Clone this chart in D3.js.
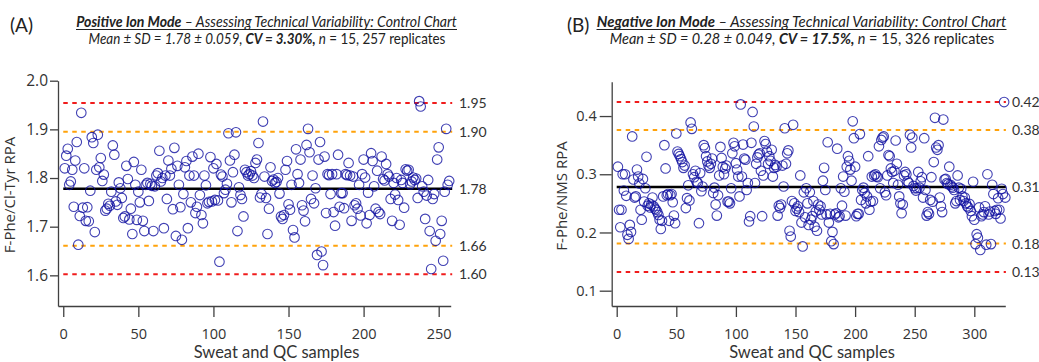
<!DOCTYPE html>
<html>
<head>
<meta charset="utf-8">
<script src="https://cdn.jsdelivr.net/npm/d3@7"></script>
<style>
  body{margin:0;background:#fff}
  svg{display:block}
</style>
</head>
<body>
<svg id="chart" width="1039" height="362"></svg>
<script>
// F-Phe/Cl-Tyr RPA, positive ion mode (257 replicates, in run order)
const posValues = [
  1.820,1.846,1.860,1.786,1.793,1.817,1.741,1.836,1.874,1.663,
  1.722,1.934,1.739,1.820,1.712,1.740,1.711,1.774,1.884,1.872,
  1.689,1.817,1.889,1.822,1.841,1.794,1.807,1.733,1.737,1.747,
  1.743,1.772,1.867,1.848,1.752,1.745,1.791,1.779,1.759,1.718,
  1.721,1.825,1.798,1.715,1.737,1.685,1.833,1.786,1.714,1.772,
  1.750,1.817,1.712,1.691,1.786,1.790,1.753,1.788,1.784,1.691,
  1.783,1.805,1.810,1.856,1.793,1.800,1.697,1.805,1.757,1.836,
  1.805,1.819,1.736,1.862,1.681,1.825,1.786,1.740,1.673,1.767,
  1.822,1.835,1.697,1.805,
  1.750,1.844,1.805,1.728,1.741,1.850,1.765,1.724,1.707,1.805,
  1.785,1.748,1.751,1.843,1.752,1.820,1.755,1.829,1.754,1.628,
  1.807,1.803,1.769,1.776,1.788,1.892,1.836,1.750,1.812,1.848,
  1.894,1.691,1.781,1.765,1.757,1.721,1.817,1.812,1.805,1.808,
  1.814,1.805,1.800,1.831,1.838,1.872,1.760,1.767,1.916,1.803,
  1.759,1.685,1.737,1.822,1.794,1.797,1.790,1.792,1.800,1.768,
  1.721,1.716,1.724,1.817,1.835,1.746,1.735,1.786,1.693,1.678,
  1.859,1.808,1.790,1.838,1.744,1.733,1.711,1.868,1.901,1.853,
  1.757,1.805,1.748,1.779,1.642,1.838,1.874,1.649,
  1.621,1.844,1.728,1.808,1.806,1.767,1.808,1.730,1.702,1.808,
  1.848,1.741,1.769,1.769,1.738,1.808,1.806,1.831,1.805,1.712,
  1.803,1.744,1.748,1.737,1.786,1.723,1.808,1.838,1.801,1.707,
  1.770,1.724,1.851,1.835,1.783,1.737,1.815,1.730,1.726,1.844,
  1.798,1.795,1.829,1.808,1.803,1.757,1.712,1.790,1.766,1.800,
  1.755,1.704,1.796,1.790,1.739,1.818,1.815,1.817,1.787,1.793,
  1.801,1.796,1.799,1.759,1.958,1.947,1.783,1.772,1.716,1.764,
  1.796,1.691,1.613,1.757,1.767,1.671,1.838,1.863,1.685,1.712,
  1.630,1.772,1.901,1.786,1.794
];

// F-Phe/NMS RPA, negative ion mode (326 replicates, in run order)
const negValues = [
  0.313,0.239,0.209,0.239,0.300,0.272,0.300,0.263,0.196,0.189,
  0.213,0.201,0.365,0.291,0.260,0.262,0.308,0.296,0.284,0.239,
  0.222,0.292,0.253,0.276,0.330,0.246,0.250,0.243,0.248,0.260,
  0.245,0.241,0.239,0.235,0.230,0.222,0.206,0.220,0.262,0.350,
  0.310,0.264,0.266,0.220,0.264,0.266,0.252,0.229,0.216,0.370,
  0.339,0.335,0.331,0.326,0.321,0.311,0.315,0.242,0.259,0.281,
  0.255,0.389,0.378,0.300,0.295,0.306,0.287,0.285,0.216,0.302,
  0.271,0.279,0.350,0.345,0.331,0.322,0.315,0.311,0.318,0.327,
  0.268,0.277,0.248,0.229,0.264,0.298,0.347,0.328,0.313,0.300,
  0.310,0.315,0.253,0.253,0.250,0.276,0.336,0.354,0.348,0.319,
  0.308,0.296,0.262,0.420,0.296,0.351,0.327,
  0.325,0.273,0.285,0.219,0.228,0.354,0.407,0.382,0.285,0.318,
  0.329,0.334,0.336,0.306,0.228,0.298,0.357,0.352,0.339,0.318,
  0.331,0.323,0.342,0.296,0.311,0.316,0.313,0.229,0.246,0.242,
  0.248,0.315,0.279,0.379,0.318,0.336,0.341,0.203,0.193,0.254,
  0.385,0.250,0.237,0.241,0.245,0.235,0.298,0.217,0.176,0.269,
  0.226,0.276,0.250,0.213,0.269,0.222,0.228,0.254,0.210,0.236,
  0.203,0.248,0.239,0.245,0.231,0.289,0.311,0.273,0.231,0.355,
  0.217,0.232,0.185,0.201,0.180,0.231,0.233,0.344,0.226,0.228,
  0.276,0.246,0.296,0.270,0.229,0.313,0.331,0.323,0.308,0.289,
  0.391,0.362,0.313,0.228,0.232,0.232,0.369,0.256,0.273,0.277,
  0.268,0.250,0.262,0.331,0.239,0.253,0.296,0.254,
  0.298,0.300,0.296,0.295,0.348,0.276,0.359,0.363,0.365,0.269,
  0.264,0.298,0.333,0.331,0.310,0.304,0.285,0.306,0.358,0.318,
  0.282,0.262,0.250,0.233,0.248,0.298,0.304,0.300,0.288,0.285,
  0.368,0.346,0.363,0.280,0.276,0.272,0.276,0.304,0.277,0.288,
  0.295,0.260,0.362,0.273,0.229,0.235,0.232,0.256,0.295,0.253,
  0.321,0.397,0.346,0.342,0.350,0.260,0.245,0.235,0.394,0.291,
  0.292,0.285,0.283,0.313,0.282,0.279,0.277,0.273,0.250,0.254,
  0.298,0.277,0.256,0.275,0.262,0.254,0.260,0.250,0.245,0.243,
  0.249,0.237,0.228,0.287,0.222,0.180,0.197,0.191,0.243,0.170,
  0.228,0.231,0.235,0.245,0.179,0.300,0.231,0.236,0.180,0.282,
  0.266,0.237,0.232,0.239,0.259,0.239,0.224,0.275,0.266,0.424,
  0.260
];

// control limits: +3SD, +2SD, mean, -2SD, -3SD
const posLimits = [1.954, 1.895, 1.778, 1.661, 1.602];
const posLimitLabels = ['1.95', '1.90', '1.78', '1.66', '1.60'];
const negLimits = [0.424, 0.376, 0.278, 0.181, 0.132];
const negLimitLabels = ['0.42', '0.38', '0.31', '0.18', '0.13'];

const posYTicks = [1.6, 1.7, 1.8, 1.9, 2.0];
const negYTicks = [0.1, 0.2, 0.3, 0.4];
const posXTicks = [0, 50, 100, 150, 200, 250];
const negXTicks = [0, 50, 100, 150, 200, 250, 300];

const limitColors = ['#f01c1c', '#ffa20a', '#000', '#ffa20a', '#f01c1c'];

const panels = [
  {
    tag: '(A)', tagX: 10,
    title: ['Positive Ion Mode', ' – Assessing Technical Variability: Control Chart'],
    stats: ['Mean ± SD = 1.78 ± 0.059, ', 'CV = 3.30%,', ' n', ' = 15, 257 replicates'],
    titleCx: 266.5, titleW: 381, statsW: 357,
    yLabel: 'F-Phe/Cl-Tyr RPA', yLabelX: 15, yLabelY: 195,
    xLabelX: 276.5,
    values: posValues, limits: posLimits, limitLabels: posLimitLabels,
    yTicks: posYTicks, xTicks: posXTicks,
    xDomain: [-3.5, 258], xRange: [58, 450.7],
    yDomain: [1.537, 2.0], yTop: 80.7, yTickLen: 8, yTickPad: 2, yFont: 15.5,
    lineEnd: 259, labelX: 459
  },
  {
    tag: '(B)', tagX: 567,
    title: ['Negative Ion Mode', ' – Assessing Technical Variability: Control Chart'],
    stats: ['Mean ± SD = 0.28 ± 0.049, ', 'CV = 17.5%,', ' n', ' = 15, 326 replicates'],
    titleCx: 801.5, titleW: 410, statsW: 385,
    yLabel: 'F-Phe/NMS RPA', yLabelX: 567, yLabelY: 196,
    xLabelX: 812,
    values: negValues, limits: negLimits, limitLabels: negLimitLabels,
    yTicks: negYTicks, xTicks: negXTicks,
    xDomain: [-4.2, 326], xRange: [611.7, 1005.3],
    yDomain: [0.0737, 0.459], yTop: 81.7, yTickLen: 12, yTickPad: 3, yFont: 14.5,
    lineEnd: 326.5, labelX: 1012
  }
];

const svg = d3.select('#chart');
svg.append('rect').attr('width', 1039).attr('height', 362).attr('fill', '#fff');

const axisY0 = 306;

// squeeze a centred text horizontally so it spans the wanted width
function fitWidth(holder, textSel, cx, y, target) {
  const w = textSel.node().getComputedTextLength();
  holder.attr('transform', `translate(${cx},${y}) scale(${target / w},1)`);
}

panels.forEach(p => {
  const g = svg.append('g');

  const x = d3.scaleLinear().domain(p.xDomain).range(p.xRange);
  const y = d3.scaleLinear().domain(p.yDomain).range([axisY0, p.yTop]);

  // header
  g.append('text').attr('x', p.tagX).attr('y', 32)
    .attr('font-family', 'Lato').attr('font-size', 19).attr('fill', '#222')
    .text(p.tag);

  const h1 = g.append('g');
  const t1 = h1.append('text').attr('text-anchor', 'middle').attr('font-family', 'Lato')
    .attr('font-size', 15.5).attr('font-style', 'italic').attr('fill', '#222');
  t1.append('tspan').attr('font-weight', 'bold').text(p.title[0]);
  t1.append('tspan').text(p.title[1]);
  fitWidth(h1, t1, p.titleCx, 26.5, p.titleW);
  g.append('line')
    .attr('x1', p.titleCx - p.titleW / 2).attr('x2', p.titleCx + p.titleW / 2)
    .attr('y1', 29.5).attr('y2', 29.5).attr('stroke', '#222').attr('stroke-width', 1);

  const h2 = g.append('g');
  const t2 = h2.append('text').attr('text-anchor', 'middle').attr('font-family', 'Lato')
    .attr('font-size', 15.5).attr('fill', '#222');
  t2.append('tspan').attr('font-style', 'italic').text(p.stats[0]);
  t2.append('tspan').attr('font-style', 'italic').attr('font-weight', 'bold').text(p.stats[1]);
  t2.append('tspan').attr('font-style', 'italic').text(p.stats[2]);
  t2.append('tspan').text(p.stats[3]);
  fitWidth(h2, t2, p.titleCx + 0.5, 43.5, p.statsW);

  // axes
  const ya = g.append('g').attr('transform', `translate(${p.xRange[0]},0)`)
    .call(d3.axisLeft(y).tickValues(p.yTicks).tickFormat(d3.format('.1f'))
      .tickSize(p.yTickLen).tickSizeOuter(0).tickPadding(p.yTickPad));
  ya.selectAll('text').attr('font-family', 'Open Sans').attr('font-size', p.yFont).attr('fill', '#333');

  const xa = g.append('g').attr('transform', `translate(0,${axisY0})`)
    .call(d3.axisBottom(x).tickValues(p.xTicks).tickSize(11).tickSizeOuter(0).tickPadding(12));
  xa.selectAll('text').attr('font-family', 'Open Sans').attr('font-size', 14.5).attr('fill', '#333');

  g.selectAll('.domain').attr('stroke', '#404040').attr('stroke-width', 1.3);
  g.selectAll('.tick line').attr('stroke', '#404040').attr('stroke-width', 1.3);

  // axis titles
  g.append('text')
    .attr('transform', `translate(${p.yLabelX},${p.yLabelY}) rotate(-90)`)
    .attr('text-anchor', 'middle').attr('font-family', 'Open Sans')
    .attr('font-size', 15).attr('fill', '#333').text(p.yLabel);
  g.append('text').attr('x', p.xLabelX).attr('y', 358)
    .attr('text-anchor', 'middle').attr('font-family', 'Lato')
    .attr('font-size', 16.5).attr('fill', '#333').text('Sweat and QC samples');

  // control limit lines
  p.limits.forEach((v, i) => {
    const isMean = i === 2;
    g.append('line')
      .attr('x1', x(0)).attr('x2', x(p.lineEnd))
      .attr('y1', y(v)).attr('y2', y(v))
      .attr('stroke', limitColors[i])
      .attr('stroke-width', isMean ? 2.6 : 2)
      .attr('stroke-dasharray', isMean ? null : '4.5,4.5');
    g.append('text').attr('x', p.labelX).attr('y', y(v) + 5)
      .attr('font-family', 'Lato').attr('font-size', 14).attr('fill', '#333')
      .text(p.limitLabels[i]);
  });

  // samples
  g.append('g').selectAll('circle').data(p.values).enter().append('circle')
    .attr('cx', (d, i) => x(i + 1)).attr('cy', d => y(d))
    .attr('r', 4.8).attr('fill', 'none')
    .attr('stroke', '#1010a0').attr('stroke-opacity', 0.8).attr('stroke-width', 1.1);
});
</script>
</body>
</html>
